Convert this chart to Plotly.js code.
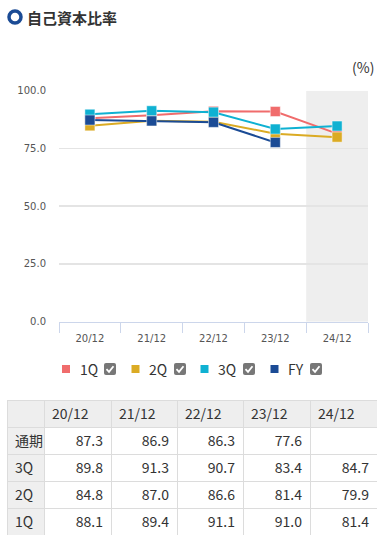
<!DOCTYPE html>
<html>
<head>
<meta charset="utf-8">
<script src="https://cdn.plot.ly/plotly-3.0.1.min.js"></script>
<style>html,body{margin:0;padding:0;background:#fff;}#chart{width:377px;height:536px;}</style>
</head>
<body>
<div id="chart"></div>
<script>
// ---- data ----
const categories = ['20/12', '21/12', '22/12', '23/12', '24/12'];
const q1 = [88.1, 89.4, 91.1, 91.0, 81.4];
const q2 = [84.8, 87.0, 86.6, 81.4, 79.9];
const q3 = [89.8, 91.3, 90.7, 83.4, 84.7];
const fy = [87.3, 86.9, 86.3, 77.6, null];
const seriesNames = ['1Q', '2Q', '3Q', 'FY'];
const rowLabels = ['通期', '3Q', '2Q', '1Q'];
const yTicks = [0, 25, 50, 75, 100];
const titleText = '自己資本比率';
const unitText = '(%)';

// ---- style ----
const W = 377, H = 536;
const px = x => x / W;
const py = y => 1 - y / H;
const colors = ['#f06c6c', '#dbab24', '#0fb1d2', '#1b4b95'];
const cjk = '"Noto Sans CJK JP", "Noto Sans", sans-serif';
const tickFont = {family: '"DejaVu Sans", sans-serif', size: 10, color: '#555'};

const series = [q1, q2, q3, fy];
const traces = series.map((vals, i) => ({
  type: 'scatter', mode: 'lines+markers',
  x: categories, y: vals, name: seriesNames[i],
  line: {color: colors[i], width: 2},
  marker: {symbol: 'square', size: 10, color: colors[i], line: {color: 'rgba(255,255,255,0.45)', width: 1}},
  showlegend: false, hoverinfo: 'skip', cliponaxis: false,
  xaxis: 'x', yaxis: 'y'
}));

const fmt = v => (v === null || v === undefined) ? '' : v.toFixed(1);
const rowSeries = [fy, q3, q2, q1];
const cellCols = [rowLabels];
categories.forEach((c, j) => cellCols.push(rowSeries.map(s => fmt(s[j]))));
const cellFill = [rowLabels.map(() => '#efefef')];
categories.forEach(() => cellFill.push(rowLabels.map(() => '#ffffff')));

traces.push({
  type: 'table',
  domain: {x: [px(7), 1], y: [0, py(400)]},
  columnwidth: [37, 67, 66, 66, 67, 67],
  header: {
    values: [''].concat(categories),
    align: 'left', height: 27,
    fill: {color: '#eeeeee'},
    line: {color: '#dcdcdc', width: 1},
    font: {family: cjk, size: 14, color: '#333'}
  },
  cells: {
    values: cellCols,
    align: ['left', 'right', 'right', 'right', 'right', 'right'],
    height: 27,
    fill: {color: cellFill},
    line: {color: '#dcdcdc', width: 1},
    font: {family: cjk, size: 14, color: '#333'}
  }
});

// legend (custom, with checkboxes)
const legendItems = [
  {sq: 66, tx: 78, cb: 110},
  {sq: 135.5, tx: 147, cb: 180},
  {sq: 204.5, tx: 216, cb: 249},
  {sq: 274.5, tx: 286, cb: 316}
];
const legY = 369;
const shapes = [
  // shaded forecast band for last category
  {type: 'rect', xref: 'x', yref: 'y', x0: categories.length - 1.5, x1: categories.length - 0.5, y0: 0, y1: 100,
   fillcolor: '#eeeeee', line: {width: 0}, layer: 'below'},
  // title ring
  {type: 'circle', xref: 'paper', yref: 'paper', x0: px(9), x1: px(21), y0: py(23), y1: py(11),
   line: {color: '#1b4b95', width: 3.5}, fillcolor: 'rgba(0,0,0,0)'}
];
const annotations = [
  {text: titleText, xref: 'paper', yref: 'paper', x: px(25), y: py(17), xanchor: 'left', yanchor: 'middle',
   showarrow: false, font: {family: cjk, size: 15, color: '#333', weight: 'bold'}},
  {text: unitText, xref: 'paper', yref: 'paper', x: px(376), y: py(67), xanchor: 'right', yanchor: 'middle',
   showarrow: false, font: {family: cjk, size: 14, color: '#333'}}
];
legendItems.forEach((it, i) => {
  shapes.push({type: 'rect', xref: 'paper', yref: 'paper', x0: px(it.sq - 4), x1: px(it.sq + 4), y0: py(legY + 4), y1: py(legY - 4),
    fillcolor: colors[i], line: {width: 0}});
  const l = it.cb - 6, r = it.cb + 6, t = legY - 6, b = legY + 6, rr = 2;
  const path = `M${px(l + rr)},${py(t)} L${px(r - rr)},${py(t)} Q${px(r)},${py(t)} ${px(r)},${py(t + rr)} ` +
    `L${px(r)},${py(b - rr)} Q${px(r)},${py(b)} ${px(r - rr)},${py(b)} L${px(l + rr)},${py(b)} ` +
    `Q${px(l)},${py(b)} ${px(l)},${py(b - rr)} L${px(l)},${py(t + rr)} Q${px(l)},${py(t)} ${px(l + rr)},${py(t)} Z`;
  shapes.push({type: 'path', xref: 'paper', yref: 'paper', path: path, fillcolor: '#777777', line: {width: 0}});
  shapes.push({type: 'path', xref: 'paper', yref: 'paper',
    path: `M${px(it.cb - 3.5)},${py(legY + 0.2)} L${px(it.cb - 1)},${py(legY + 2.8)} L${px(it.cb + 3.5)},${py(legY - 2.8)}`,
    line: {color: '#ffffff', width: 1.8}});
  annotations.push({text: seriesNames[i], xref: 'paper', yref: 'paper', x: px(it.tx), y: py(legY), xanchor: 'left', yanchor: 'middle',
    showarrow: false, font: {family: cjk, size: 14, color: '#333'}});
});

const layout = {
  width: W, height: H,
  margin: {l: 0, r: 0, t: 0, b: 0},
  paper_bgcolor: '#ffffff', plot_bgcolor: '#ffffff',
  showlegend: false,
  xaxis: {
    domain: [px(59), px(368)], type: 'category', range: [-0.5, categories.length - 0.5],
    showline: true, linecolor: '#ccd6eb', linewidth: 1,
    ticks: 'outside', tickson: 'boundaries', ticklen: 10, tickcolor: '#ccd6eb', tickwidth: 1,
    ticklabelstandoff: 7,
    showgrid: false, zeroline: false, tickfont: tickFont, fixedrange: true
  },
  yaxis: {
    domain: [py(321.7), py(90.7)], range: [0, 100],
    tickvals: yTicks, tickformat: '.1f', ticks: '', ticklabelstandoff: 12,
    showgrid: true, gridcolor: '#e4e4e4', gridwidth: 1.5,
    zeroline: false, showline: false, tickfont: tickFont, fixedrange: true
  },
  shapes: shapes,
  annotations: annotations
};

Plotly.newPlot('chart', traces, layout, {staticPlot: true, displayModeBar: false});
</script>
</body>
</html>
